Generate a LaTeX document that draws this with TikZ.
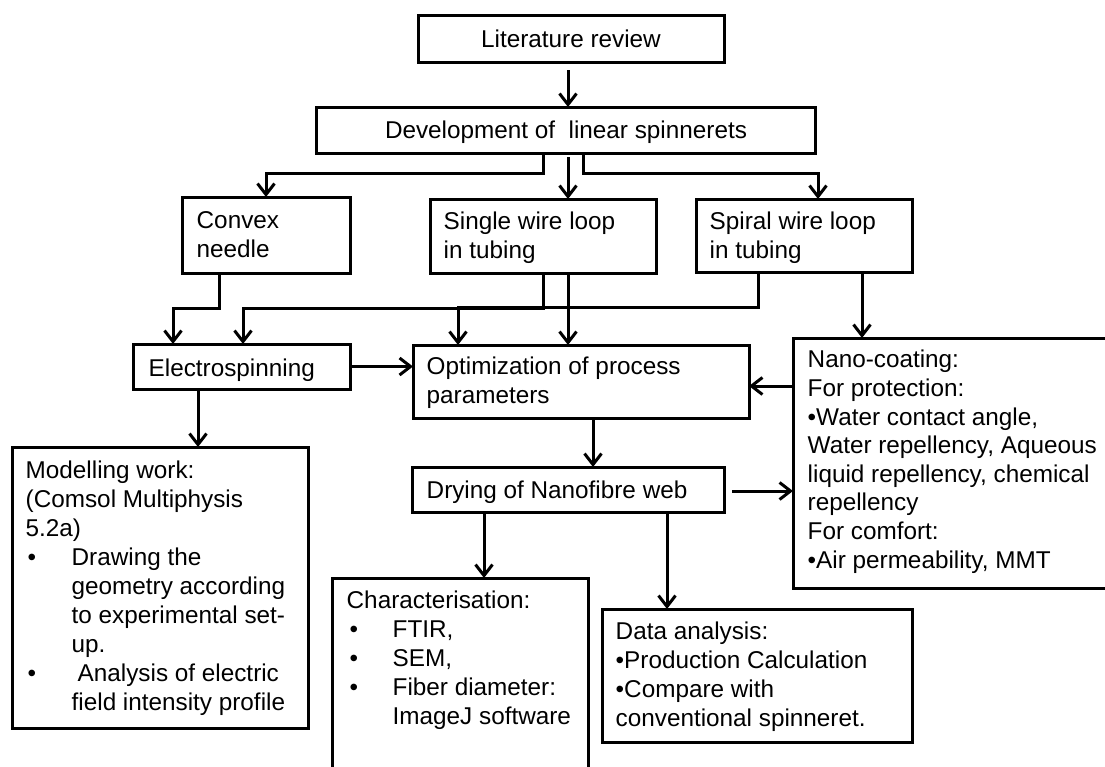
\documentclass[tikz,border=0pt]{standalone}
\usepackage{fontspec}
\setmainfont{Liberation Sans}
\usetikzlibrary{arrows.meta,calc}
\tikzset{
  box/.style={draw, line width=3pt, inner sep=0pt, outer sep=0pt, anchor=north west},
  txt/.style={inner sep=0pt, align=left, anchor=base west, font=\fontsize{24.3}{29}\selectfont},
  ctxt/.style={inner sep=0pt, align=center, anchor=base, font=\fontsize{24.3}{29}\selectfont},
  arr/.style={line width=3pt, -{Straight Barb[length=11pt,width=17pt]}},
  ln/.style={line width=3pt}
}
\begin{document}
\begin{tikzpicture}[x=1pt,y=-1pt]
\useasboundingbox (0,0) rectangle (1105,766);
\fill[white] (0,0) rectangle (1105,766);
\clip (0,0) rectangle (1105,766);

% boxes
\node[box, minimum width=306pt, minimum height=47pt] (lit) at (418,15) {};
\node[box, minimum width=499pt, minimum height=46pt] (dev) at (316,107) {};
\node[box, minimum width=168pt, minimum height=76pt] (convex) at (182,197) {};
\node[box, minimum width=226pt, minimum height=74pt] (single) at (430,199) {};
\node[box, minimum width=216pt, minimum height=73pt] (spiral) at (696,199) {};
\node[box, minimum width=217pt, minimum height=45pt] (elec) at (133,344) {};
\node[box, minimum width=336pt, minimum height=73pt] (opt) at (413,345) {};
\node[box, minimum width=330pt, minimum height=250pt] (nano) at (793,338) {};
\node[box, minimum width=296pt, minimum height=281pt] (model) at (12,447) {};
\node[box, minimum width=312pt, minimum height=45pt] (drying) at (412,467) {};
\node[box, minimum width=256pt, minimum height=210pt] (char) at (332,578) {};
\node[box, minimum width=310pt, minimum height=133pt] (data) at (602,609) {};

% texts (anchor = baseline of the last line)
\node[ctxt] (tlit) at (571,47) {Literature review};
\node[ctxt] (tdev) at (566,138) {Development of\ \ linear spinnerets};
\node[txt] (tconvex) at (196.5,257.5) {Convex\\needle};
\node[txt] (tsingle) at (443.5,258) {Single wire loop\\in tubing};
\node[txt] (tspiral) at (709.5,258) {Spiral wire loop\\in tubing};
\node[txt] (telec) at (148.5,376) {Electrospinning};
\node[txt] (topt) at (426.5,403) {Optimization of process\\parameters};
\node[txt] (tdrying) at (426.5,498) {Drying of Nanofibre web};
\node[txt] (tmodel) at (25.5,710) {Modelling work:\\
(Comsol Multiphysis\\
5.2a)\\
\makebox[46pt][l]{\hspace*{2pt}•}Drawing the\\
\hspace*{46pt}geometry according\\
\hspace*{46pt}to experimental set-\\
\hspace*{46pt}up.\\
\makebox[46pt][l]{\hspace*{2pt}•}\hspace*{6pt}Analysis of electric\\
\hspace*{46pt}field intensity profile};
\node[txt] (tchar) at (346.5,724) {Characterisation:\\
\makebox[46pt][l]{\hspace*{3pt}•}FTIR,\\
\makebox[46pt][l]{\hspace*{3pt}•}SEM,\\
\makebox[46pt][l]{\hspace*{3pt}•}Fiber diameter:\\
\hspace*{46pt}ImageJ software};
\node[txt] (tdata) at (615.5,726) {Data analysis:\\
•Production Calculation\\
•Compare with\\
conventional spinneret.};
\node[txt, font=\fontsize{24.3}{28.6}\selectfont] (tnano) at (807.5,568) {Nano-coating:\\
For protection:\\
•Water contact angle,\\
Water repellency, Aqueous\\
liquid repellency, chemical\\
repellency\\
For comfort:\\
•Air permeability, MMT};

% connectors
\draw[arr] ([xshift=-3pt,yshift=-8pt]lit.south) -- ([xshift=-3pt]lit.south |- dev.north);
\draw[arr] ([xshift=-22.5pt]dev.south) -- ++(0,20) -| (convex.north);
\draw[arr] ([xshift=2.5pt,yshift=-4pt]dev.south) -- ([xshift=2.5pt]dev.south |- single.north);
\draw[arr] ([xshift=17.5pt]dev.south) -- ++(0,20) -| ([xshift=14pt]spiral.north);

\draw[arr] ([xshift=-47pt]convex.south) -- ++(0,35) -| ([xshift=-68.5pt]elec.north);
\draw[arr] (single.south) -- ++(0,35) -| ([xshift=1.5pt]elec.north);
\draw[arr] ([xshift=-46pt]spiral.south) -- ++(0,35) -| ([xshift=-123pt]opt.north);
\draw[arr] ([xshift=25pt]single.south) -- ([xshift=25pt]single.south |- opt.north);
\draw[arr] ([xshift=58pt]spiral.south) -- ([xshift=58pt]spiral.south |- nano.north);

\draw[arr] (elec.east) -- (elec.east -| opt.west);
\coordinate (pn) at ([yshift=-4.5pt]opt.east);
\draw[arr] (nano.west |- pn) -- (pn);
\draw[arr] ([xshift=-43.5pt]elec.south) -- ([xshift=-43.5pt]elec.south |- model.north);
\draw[arr] ([xshift=12pt]opt.south) -- ([xshift=12pt]opt.south |- drying.north);
\coordinate (pd) at ([xshift=8pt,yshift=-1.5pt]drying.east);
\draw[arr] (pd) -- (pd -| nano.west);
\draw[arr] ([xshift=-84pt]drying.south) -- ([xshift=-84pt]drying.south |- char.north);
\draw[arr] ([xshift=99pt]drying.south) -- ([xshift=99pt]drying.south |- data.north);
\end{tikzpicture}
\end{document}
